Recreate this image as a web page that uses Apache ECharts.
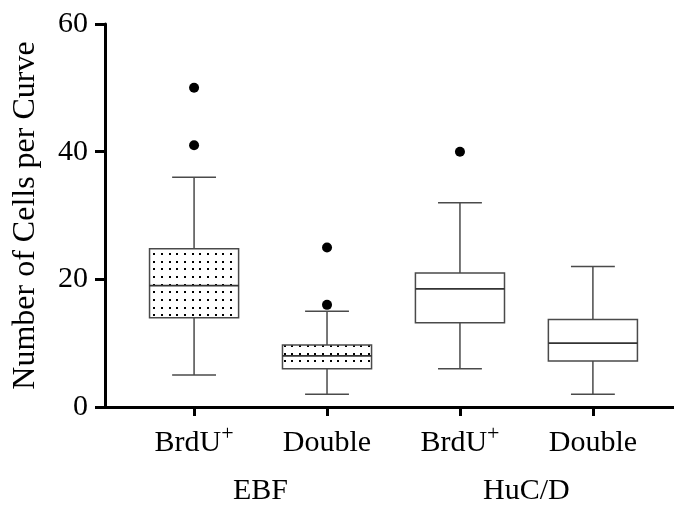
<!DOCTYPE html>
<html>
<head>
<meta charset="utf-8">
<script src="https://cdn.jsdelivr.net/npm/echarts@6/dist/echarts.min.js"></script>
<style>
  html, body { margin: 0; padding: 0; background: #fff; }
  #chart { width: 674px; height: 506px; }
</style>
</head>
<body>
<div id="chart"></div>
<script>
// categories on the x axis and the group each one belongs to
const categories = ['BrdU+', 'Double', 'BrdU+', 'Double'];
const groups = ['EBF', 'HuC/D'];
const groupOf = [0, 0, 1, 1];
// five-number summaries per category
const whiskerLow = [5, 2, 6, 2];
const q1 = [14, 6, 13.2, 7.2];
const median = [19, 8, 18.5, 10];
const q3 = [24.8, 9.7, 21, 13.7];
const whiskerHigh = [36, 15, 32, 22];
// outliers: [category index, value]
const outliers = [[0, 41], [0, 50], [1, 16], [1, 25], [2, 40]];
const yTicks = [0, 20, 40, 60];

const FONT = 'Liberation Serif';
const LINE = '#4a4a4a';

// small dotted tile used to fill the EBF boxes
const dotTile = document.createElement('canvas');
dotTile.width = 23;
dotTile.height = 23;
(function () {
  const ctx = dotTile.getContext('2d');
  ctx.fillStyle = '#fff';
  ctx.fillRect(0, 0, 23, 23);
  ctx.fillStyle = '#000';
  [0, 8, 15].forEach(function (y) {
    [0, 8, 15].forEach(function (x) { ctx.fillRect(x, y, 2, 2); });
  });
})();
const dotPattern = { image: dotTile, repeat: 'repeat' };

const boxData = categories.map((c, i) => [i, whiskerLow[i], q1[i], median[i], q3[i], whiskerHigh[i]]);

function renderBox(params, api) {
  const i = api.value(0);
  const lo = api.coord([i, api.value(1)]);
  const b1 = api.coord([i, api.value(2)]);
  const md = api.coord([i, api.value(3)]);
  const b3 = api.coord([i, api.value(4)]);
  const hi = api.coord([i, api.value(5)]);
  const band = api.size([1, 0])[0];
  const bw = band * 0.67;
  const cw = band * 0.33;
  const x = lo[0];
  const st = { stroke: LINE, lineWidth: 1.5 };
  return {
    type: 'group',
    children: [
      { type: 'line', shape: { x1: x, y1: hi[1], x2: x, y2: b3[1] }, style: st },
      { type: 'line', shape: { x1: x, y1: b1[1], x2: x, y2: lo[1] }, style: st },
      { type: 'line', shape: { x1: x - cw / 2, y1: hi[1], x2: x + cw / 2, y2: hi[1] }, style: st },
      { type: 'line', shape: { x1: x - cw / 2, y1: lo[1], x2: x + cw / 2, y2: lo[1] }, style: st },
      {
        type: 'rect',
        shape: { x: x - bw / 2, y: b3[1], width: bw, height: b1[1] - b3[1] },
        style: { fill: groupOf[i] === 0 ? dotPattern : '#fff', stroke: LINE, lineWidth: 1.5 }
      },
      { type: 'line', shape: { x1: x - bw / 2, y1: md[1], x2: x + bw / 2, y2: md[1] }, style: { stroke: '#333', lineWidth: 1.8 } }
    ]
  };
}

const chart = echarts.init(document.getElementById('chart'));
chart.setOption({
  animation: false,
  grid: { left: 105, right: 0, top: 24, bottom: 96 },
  xAxis: [
    {
      type: 'value',
      min: -0.67,
      max: 3.61,
      splitLine: { show: false },
      axisLine: { show: true, lineStyle: { color: '#000', width: 3 } },
      axisTick: { show: true, customValues: [0, 1, 2, 3], length: 9, lineStyle: { color: '#000', width: 3 } },
      axisLabel: {
        customValues: [0, 1, 2, 3],
        margin: 16,
        formatter: function (v) {
          const name = categories[Math.round(v)];
          return name.endsWith('+') ? '{b|' + name.slice(0, -1) + '}{s|+}' : '{b|' + name + '}';
        },
        rich: {
          b: { fontFamily: FONT, fontSize: 30, color: '#000', lineHeight: 40 },
          s: { fontFamily: FONT, fontSize: 22, color: '#000', verticalAlign: 'top', lineHeight: 8 }
        }
      }
    },
    {
      type: 'value',
      position: 'bottom',
      offset: 53,
      min: -0.67,
      max: 3.61,
      splitLine: { show: false },
      axisLine: { show: false },
      axisTick: { show: false },
      axisLabel: {
        customValues: [0.5, 2.5],
        margin: 16,
        fontFamily: FONT,
        fontSize: 30,
        color: '#000',
        formatter: function (v) { return groups[Math.floor(v / 2)]; }
      }
    }
  ],
  yAxis: {
    type: 'value',
    min: yTicks[0],
    max: yTicks[yTicks.length - 1],
    interval: 20,
    name: 'Number of Cells per Curve',
    nameLocation: 'middle',
    nameGap: 63,
    nameTextStyle: { fontFamily: FONT, fontSize: 32, color: '#000' },
    splitLine: { show: false },
    axisLine: { show: true, onZero: false, lineStyle: { color: '#000', width: 3 } },
    axisTick: { show: true, length: 10, lineStyle: { color: '#000', width: 3 } },
    axisLabel: { margin: 17, fontFamily: FONT, fontSize: 30, color: '#000' }
  },
  series: [
    {
      type: 'custom',
      renderItem: renderBox,
      encode: { x: 0, y: [1, 2, 3, 4, 5] },
      data: boxData,
      z: 2
    },
    {
      type: 'scatter',
      data: outliers,
      symbol: 'circle',
      symbolSize: 10,
      itemStyle: { color: '#000', opacity: 1 },
      z: 3
    }
  ]
});
</script>
</body>
</html>
